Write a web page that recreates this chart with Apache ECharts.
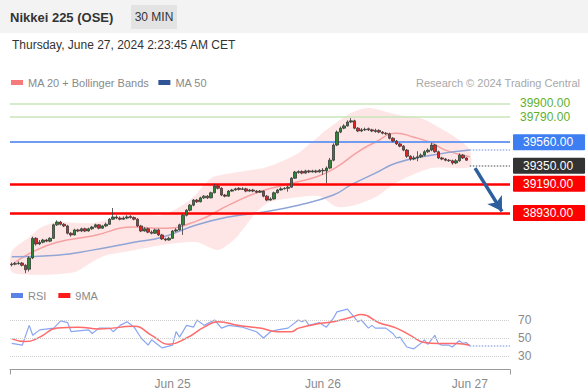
<!DOCTYPE html>
<html><head><meta charset="utf-8">
<script src="https://cdn.jsdelivr.net/npm/echarts@6/dist/echarts.min.js"></script>
<style>html,body{margin:0;padding:0;background:#fff}#c{width:588px;height:392px}</style>
</head><body><div id="c"></div>
<script>
// ---------- DATA ----------
const OPEN  = [38470,38475,38480,38485,38465,38430,38530,38705,38655,38670,38690,38680,38705,38825,38850,38830,38815,38750,38735,38780,38770,38790,38770,38790,38805,38825,38795,38815,38830,38875,38895,38885,38875,38885,38900,38890,38875,38815,38770,38790,38760,38750,38780,38735,38700,38690,38705,38770,38780,38825,38910,38955,39000,39045,39030,39065,39080,39065,39110,39170,39150,39090,39080,39125,39135,39150,39140,39145,39125,39135,39125,39115,39125,39080,39045,39055,39110,39135,39145,39150,39160,39240,39290,39300,39285,39305,39295,39305,39295,39310,39305,39330,39400,39535,39650,39685,39705,39740,39750,39685,39660,39670,39680,39670,39655,39665,39650,39640,39635,39595,39570,39545,39525,39490,39435,39410,39420,39430,39445,39475,39490,39535,39475,39420,39410,39400,39395,39375,39395,39445,39420];
const CLOSE = [38475,38480,38485,38465,38425,38530,38705,38655,38670,38690,38680,38705,38825,38850,38830,38815,38750,38735,38780,38770,38790,38770,38790,38805,38825,38795,38815,38830,38875,38895,38885,38875,38885,38895,38890,38875,38815,38770,38790,38760,38750,38780,38735,38700,38690,38705,38770,38780,38825,38910,38955,39000,39045,39030,39065,39080,39065,39110,39170,39150,39090,39080,39125,39135,39145,39140,39145,39125,39135,39125,39115,39125,39080,39045,39055,39110,39135,39145,39150,39160,39240,39295,39300,39285,39305,39295,39305,39295,39310,39305,39330,39400,39535,39650,39685,39705,39740,39750,39685,39660,39670,39675,39670,39660,39665,39650,39640,39635,39595,39570,39545,39525,39490,39435,39410,39420,39430,39445,39475,39490,39535,39475,39420,39410,39400,39395,39375,39395,39445,39420,39400];
const HIGH  = [38490,38495,38500,38495,38475,38545,38720,38715,38690,38700,38700,38715,38835,38865,38860,38840,38825,38760,38790,38790,38800,38800,38800,38815,38835,38830,38825,38845,38885,38975,38910,38900,38900,38910,38910,38900,38885,38825,38805,38800,38775,38790,38790,38745,38710,38720,38780,38795,38835,38920,38965,39010,39055,39055,39075,39090,39090,39120,39190,39180,39160,39100,39135,39145,39155,39160,39160,39155,39145,39145,39135,39135,39130,39090,39070,39120,39145,39160,39160,39175,39250,39305,39310,39310,39315,39315,39315,39315,39320,39330,39345,39420,39550,39665,39700,39720,39755,39775,39760,39695,39685,39690,39690,39680,39680,39675,39660,39650,39645,39605,39580,39555,39535,39500,39445,39440,39480,39460,39490,39505,39555,39545,39485,39430,39420,39410,39405,39410,39460,39455,39425];
const LOW   = [38455,38465,38470,38455,38395,38410,38520,38640,38645,38660,38670,38670,38700,38815,38820,38805,38740,38720,38730,38760,38760,38760,38765,38780,38800,38785,38790,38805,38825,38870,38875,38865,38870,38875,38880,38865,38805,38760,38765,38750,38740,38745,38725,38690,38680,38685,38700,38760,38775,38735,38900,38945,38990,39020,39025,39055,39055,39060,39105,39140,39080,39070,39075,39120,39130,39130,39135,39115,39120,39115,39105,39110,39070,39035,39040,39050,39105,39130,39140,39120,39155,39235,39280,39275,39280,39285,39290,39285,39290,39270,39195,39320,39390,39525,39640,39675,39700,39730,39675,39650,39650,39660,39660,39650,39645,39640,39630,39625,39585,39560,39535,39515,39480,39420,39395,39400,39390,39420,39435,39465,39480,39465,39410,39400,39390,39385,39360,39365,39385,39410,39395];
const SLOT_COUNT = 143;                       // bar slots on the time axis (incl. empty space on the right)
const TICK_LABELS = [[46,'Jun 25'],[89,'Jun 26'],[131,'Jun 27']];
// moving averages & bands: [bar index, price]
const MA20 = [[0,38470],[6,38585],[13,38670],[23,38725],[35,38805],[43,38795],[53,38860],[62,39000],[70,39110],[78,39180],[87,39250],[93,39340],[99,39475],[104,39560],[110,39640],[115,39605],[120,39555],[124,39490],[131,39430]];
const MA50 = [[0,38540],[13,38555],[23,38600],[35,38670],[43,38715],[53,38825],[62,38895],[70,38930],[82,39000],[92,39090],[97,39180],[104,39285],[110,39375],[120,39445],[131,39490]];
const BB_UPPER = [[0,38590],[5,38715],[8,38795],[13,38850],[23,38840],[35,38930],[43,38910],[51,39045],[57,39240],[63,39285],[73,39340],[82,39465],[90,39670],[97,39820],[102,39865],[111,39800],[117,39775],[122,39695],[128,39580],[131,39490]];
const BB_LOWER = [[0,38405],[8,38380],[18,38405],[23,38495],[27,38555],[35,38600],[43,38645],[53,38670],[59,38600],[64,38705],[70,38940],[74,39030],[82,39070],[88,39080],[93,38985],[98,39000],[104,39070],[110,39200],[120,39330],[131,39340]];
// RSI panel: [bar index, value]
const RSI = [[0,44],[3,42],[5,64],[6,53],[8,59],[12,61],[14,69],[16,67],[17,57],[22,59],[23,55],[25,61],[28,61],[29,57],[31,64],[33,68],[35,62],[37,50],[39,42],[40,48],[42,42],[43,39],[46,42],[47,57],[48,51],[50,64],[52,62],[53,70],[55,64],[58,70],[60,61],[62,64],[66,62],[70,57],[72,50],[74,57],[76,59],[79,61],[82,70],[83,68],[84,70],[85,64],[88,67],[90,62],[92,72],[93,79],[96,82],[98,73],[99,68],[100,70],[102,61],[103,64],[104,61],[107,61],[109,55],[110,50],[111,51],[113,40],[115,38],[117,44],[118,48],[119,43],[121,53],[122,44],[123,42],[125,42],[126,40],[128,47],[129,44],[130,45],[131,41]];
const RSI_MA9 = [[0,49],[4,46],[8,51],[13,61],[19,62],[25,60],[35,63],[40,53],[45,43],[50,50],[55,62],[59,68],[65,64],[71,61],[76,57],[80,57],[82,61],[88,66],[92,68],[97,73],[100,76],[105,67],[110,61],[114,53],[118,45],[122,44],[127,44],[131,42]];
const RSI_LEVELS = [70,50,30];
const LEVELS_GREEN = [39900,39790];
const LEVEL_BLUE = 39560;
const LEVELS_RED = [39190,38930];
const LAST_PRICE = 39350;
const LAST_INDEX = 131;
const ARROW = [[132.5,39330],[140.2,38945]];

// ---------- CHART ----------
const cats = Array.from({length:SLOT_COUNT},(_,i)=>String(i));
const tickMap = new Map(TICK_LABELS);
const XMAX = SLOT_COUNT - 0.5;
const FONT = '"Liberation Sans", Arial, sans-serif';

function boxLabel(text,bg){
  return {show:true,position:'end',distance:3,formatter:text,color:'#fff',backgroundColor:bg,
    padding:[2,12,1,10],fontSize:12,lineHeight:13,fontFamily:FONT,borderRadius:1};
}
function greenLabel(text,dy){
  return {show:true,position:'end',distance:10,offset:[0,dy],formatter:text,color:'#62b02e',fontSize:12,lineHeight:12,fontFamily:FONT};
}

const chart = echarts.init(document.getElementById('c'),null,{renderer:'svg'});
chart.setOption({
  animation:false,
  textStyle:{fontFamily:FONT},
  graphic:[
    {type:'rect',shape:{x:0,y:0,width:588,height:33},style:{fill:'#f3f3f3'},silent:true,z:-1},
    {type:'rect',shape:{x:131,y:5,width:46,height:24},style:{fill:'#e3e3e3'},silent:true},
    {type:'text',x:10,y:17,style:{text:'Nikkei 225 (OSE)',fill:'#333',font:'bold 13px '+FONT,verticalAlign:'middle'}},
    {type:'text',x:154,y:17,style:{text:'30 MIN',fill:'#333',font:'12px '+FONT,align:'center',verticalAlign:'middle'}},
    {type:'text',x:12,y:45,style:{text:'Thursday, June 27, 2024 2:23:45 AM CET',fill:'#333',font:'12px '+FONT,verticalAlign:'middle'}},
    {type:'text',x:580,y:83,style:{text:'Research © 2024 Trading Central',fill:'#a8a8a8',font:'11px '+FONT,align:'right',verticalAlign:'middle'}}
  ],
  legend:[
    {left:11,top:77,padding:0,icon:'rect',itemWidth:12,itemHeight:5,itemGap:9,selectedMode:false,
     textStyle:{color:'#8a8a8a',fontSize:11},
     data:[{name:'MA 20 + Bollinger Bands',itemStyle:{color:'#f77a7a'}},{name:'MA 50',itemStyle:{color:'#2f5597'}}]},
    {left:11,top:290,padding:0,icon:'rect',itemWidth:12,itemHeight:5,itemGap:12,selectedMode:false,
     textStyle:{color:'#8a8a8a',fontSize:11},
     data:[{name:'RSI',itemStyle:{color:'#5b82e8'}},{name:'9MA',itemStyle:{color:'#ff1a1a'}}]}
  ],
  grid:[
    {left:10,right:78,top:95,height:186.6},
    {left:10,right:78,top:304.7,height:64.8}
  ],
  xAxis:[
    {type:'category',gridIndex:0,data:cats,show:false,boundaryGap:true},
    {type:'value',gridIndex:0,min:-0.5,max:XMAX,show:false},
    {type:'category',gridIndex:1,data:cats,position:'bottom',boundaryGap:true,
     axisLine:{show:false},axisTick:{show:false},splitLine:{show:false},
     axisLabel:{interval:(i)=>tickMap.has(i),formatter:(v,i)=>tickMap.get(i)||'',color:'#8a8a8a',fontSize:12,margin:8,hideOverlap:false}},
    {type:'value',gridIndex:1,min:-0.5,max:XMAX,show:false},
    {type:'value',gridIndex:1,min:0,max:1,interval:1,position:'bottom',
     axisLine:{show:true,lineStyle:{color:'#9a9a9a',width:1}},axisTick:{show:true,length:5,lineStyle:{color:'#9a9a9a'}},
     axisLabel:{show:false},splitLine:{show:false}}
  ],
  yAxis:[
    {type:'value',gridIndex:0,min:38320,max:39980,show:false},
    {type:'value',gridIndex:1,min:15,max:87,show:false}
  ],
  series:[
    {type:'custom',name:'MA 20 + Bollinger Bands',xAxisIndex:1,yAxisIndex:0,data:[0],silent:true,z:1,
     renderItem:(params,api)=>{
       const pts = BB_UPPER.map(p=>api.coord(p)).concat(BB_LOWER.slice().reverse().map(p=>api.coord(p)));
       return {type:'polygon',shape:{points:pts,smooth:0.25},style:{fill:'rgba(248,130,130,0.20)'}};
     }},
    {type:'line',name:'MA 20 + Bollinger Bands',xAxisIndex:1,yAxisIndex:0,data:MA20,smooth:true,showSymbol:false,z:3,
     lineStyle:{color:'#f6a1a1',width:1.5},itemStyle:{color:'#f77a7a'}},
    {type:'line',name:'MA 50',xAxisIndex:1,yAxisIndex:0,data:MA50,smooth:true,showSymbol:false,z:3,
     lineStyle:{color:'#8ea5d6',width:1.5},itemStyle:{color:'#2f5597'},
     markLine:{silent:true,symbol:['none','none'],animation:false,
       data:[
         {yAxis:LEVELS_GREEN[0],lineStyle:{color:'#c8e4b8',width:1.5,type:'solid'},label:greenLabel(LEVELS_GREEN[0].toFixed(2),-1)},
         {yAxis:LEVELS_GREEN[1],lineStyle:{color:'#c8e4b8',width:1.5,type:'solid'},label:greenLabel(LEVELS_GREEN[1].toFixed(2),1)},
         {yAxis:LEVEL_BLUE,lineStyle:{color:'#6f9cf0',width:2,type:'solid'},label:boxLabel(LEVEL_BLUE.toFixed(2),'#3d7ef2')},
         {yAxis:LEVELS_RED[0],lineStyle:{color:'#ff0000',width:2.5,type:'solid'},label:boxLabel(LEVELS_RED[0].toFixed(2),'#ff0000')},
         {yAxis:LEVELS_RED[1],lineStyle:{color:'#ff0000',width:2.5,type:'solid'},label:boxLabel(LEVELS_RED[1].toFixed(2),'#ff0000')},
         [{coord:[LAST_INDEX,MA50[MA50.length-1][1]]},{coord:[XMAX,MA50[MA50.length-1][1]],lineStyle:{color:'#9db5ea',width:1.5,type:'dotted'},label:{show:false}}],
         [{coord:[LAST_INDEX,LAST_PRICE]},{coord:[XMAX,LAST_PRICE],lineStyle:{color:'#888',width:1.5,type:'dotted'},label:boxLabel(LAST_PRICE.toFixed(2),'#333')}],
         [{coord:ARROW[0],symbol:'none'},{coord:ARROW[1],symbol:'arrow',symbolSize:[13,14],lineStyle:{color:'#2d5e9e',width:3.5,type:'solid'},label:{show:false}}]
       ]}},
    {type:'candlestick',xAxisIndex:0,yAxisIndex:0,z:5,barWidth:3,
     data:OPEN.map((o,i)=>[o,CLOSE[i],LOW[i],HIGH[i]]),
     itemStyle:{color:'#2a8634',color0:'#e82020',borderColor:'#3a3a3a',borderColor0:'#3a3a3a',borderWidth:0.8}},
    {type:'line',name:'RSI',xAxisIndex:3,yAxisIndex:1,data:RSI,showSymbol:false,z:3,
     lineStyle:{color:'#8aa6f2',width:1.2},itemStyle:{color:'#5b82e8'},
     markLine:{silent:true,symbol:['none','none'],animation:false,
       data:RSI_LEVELS.map(v=>({yAxis:v,lineStyle:{color:'#cfcfcf',width:1,type:'dotted'},
         label:{show:true,position:'end',distance:8,formatter:String(v),color:'#8a8a8a',fontSize:12}})).concat([
         [{coord:[LAST_INDEX,RSI[RSI.length-1][1]]},{coord:[XMAX,RSI[RSI.length-1][1]],lineStyle:{color:'#9db5ea',width:1.5,type:'dotted'},label:{show:false}}]
       ])}},
    {type:'line',name:'9MA',xAxisIndex:3,yAxisIndex:1,data:RSI_MA9,smooth:true,showSymbol:false,z:4,
     lineStyle:{color:'#ff6a6a',width:1.5},itemStyle:{color:'#ff1a1a'}}
  ]
});
</script></body></html>
